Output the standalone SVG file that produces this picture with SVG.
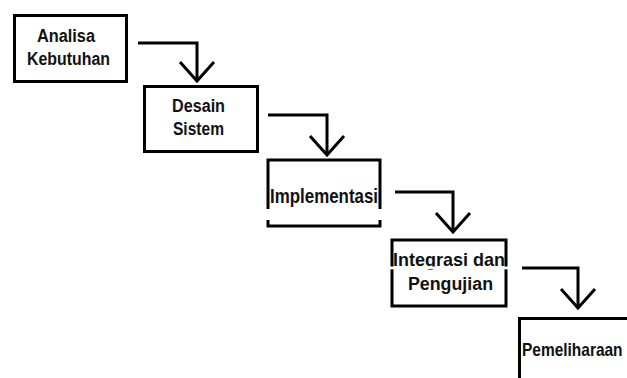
<svg xmlns="http://www.w3.org/2000/svg" width="627" height="378" viewBox="0 0 627 378">
<defs>
<style>
.box{fill:#fff;stroke:#000;stroke-width:3}
.gap{fill:#fff;stroke:none}
.t{font-family:"Liberation Sans",Arial,sans-serif;font-weight:bold;font-size:18px;fill:#111}
.c{fill:none;stroke:#000;stroke-width:3;stroke-linejoin:miter}
</style>
<marker id="chev" markerUnits="userSpaceOnUse" markerWidth="44" markerHeight="44" viewBox="-24 -22 28 44" refX="0" refY="0" orient="auto">
<path d="M-19,-17 L0,0 L-19,17" fill="none" stroke="#000" stroke-width="3"/>
</marker>
</defs>
<rect width="627" height="378" fill="#fff"/>
<g id="connectors">
<path class="c" d="M138,43 H197 V81" marker-end="url(#chev)"/>
<path class="c" d="M268,115 H327 V155" marker-end="url(#chev)"/>
<path class="c" d="M395,192 H453 V232" marker-end="url(#chev)"/>
<path class="c" d="M522,268 H578 V308" marker-end="url(#chev)"/>
</g>
<g id="analisa">
<rect class="box" x="14.5" y="15.5" width="112" height="66"/>
<text class="t" x="37" y="42" textLength="58" lengthAdjust="spacingAndGlyphs">Analisa</text>
<text class="t" x="27" y="65" textLength="83" lengthAdjust="spacingAndGlyphs">Kebutuhan</text>
</g>
<g id="desain">
<rect class="box" x="144.5" y="86.5" width="113" height="65"/>
<text class="t" x="172" y="112" textLength="53" lengthAdjust="spacingAndGlyphs">Desain</text>
<text class="t" x="173" y="135" textLength="51" lengthAdjust="spacingAndGlyphs">Sistem</text>
</g>
<g id="implementasi">
<rect class="box" x="268" y="160" width="112" height="66"/>
<rect class="gap" x="265" y="209" width="118" height="11"/>
<text class="t" x="270" y="203" textLength="108" lengthAdjust="spacingAndGlyphs" style="font-size:21px">Implementasi</text>
</g>
<g id="integrasi">
<rect class="box" x="392" y="240" width="114" height="66"/>
<text class="t" x="393" y="266" textLength="112" lengthAdjust="spacingAndGlyphs" style="font-size:19px">Integrasi dan</text>
<rect class="gap" x="389" y="266.5" width="120" height="2.8"/>
<text class="t" x="408" y="290" textLength="85" lengthAdjust="spacingAndGlyphs">Pengujian</text>
</g>
<g id="pemeliharaan">
<rect class="box" x="519.5" y="318.5" width="130" height="80"/>
<text class="t" transform="translate(522,356) scale(0.86,1)" x="0" y="0">Pemeliharaan</text>
</g>
</svg>
